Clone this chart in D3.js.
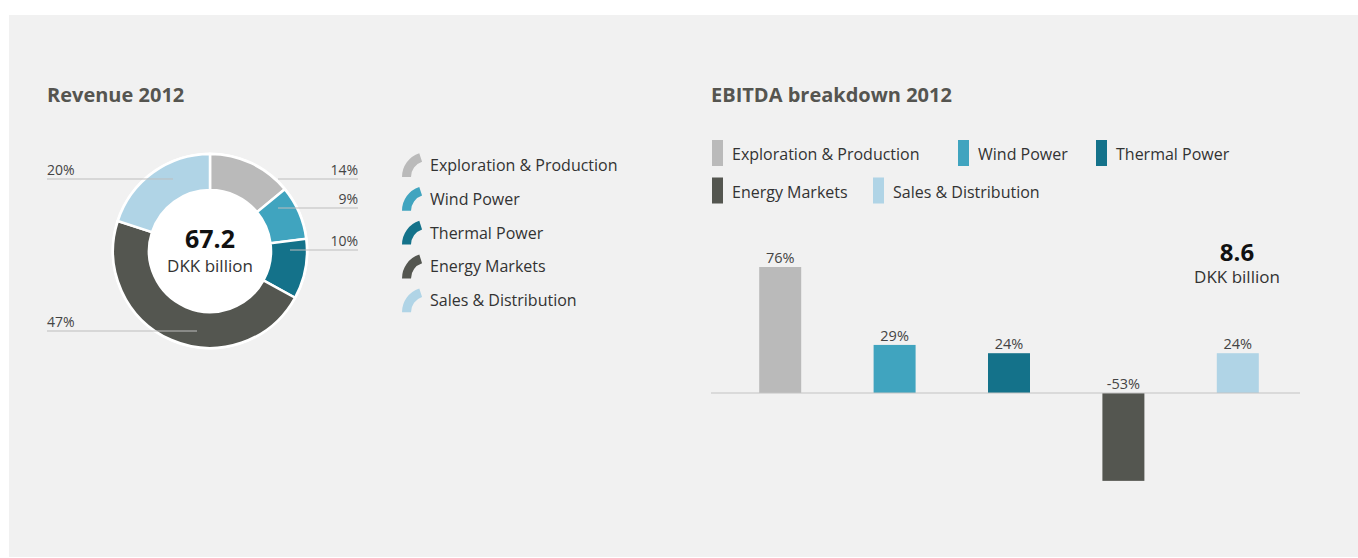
<!DOCTYPE html>
<html>
<head>
<meta charset="utf-8">
<script src="https://cdn.jsdelivr.net/npm/d3@7"></script>
<style>
  html, body { margin: 0; padding: 0; background: #ffffff; }
  svg { display: block; }
  text { font-family: "Open Sans", "Noto Sans", sans-serif; }
</style>
</head>
<body>
<svg id="chart" width="1358" height="558"></svg>
<script>
// ---- Data ----
const categories = ["Exploration & Production", "Wind Power", "Thermal Power", "Energy Markets", "Sales & Distribution"];
const colors = ["#bababa", "#40a4bf", "#14728a", "#545650", "#b0d4e6"];
const revenueShares = [14, 9, 10, 47, 20];
const revenueLabels = ["14%", "9%", "10%", "47%", "20%"];
const revenueTotal = "67.2";
const ebitdaShares = [76, 29, 24, -53, 24];
const ebitdaLabels = ["76%", "29%", "24%", "-53%", "24%"];
const ebitdaTotal = "8.6";
const unitLabel = "DKK billion";

const svg = d3.select("#chart");

// panel
svg.append("rect").attr("x", 9).attr("y", 15).attr("width", 1349).attr("height", 542).attr("fill", "#f1f1f1");

// ---- Revenue donut ----
svg.append("text").attr("x", 47).attr("y", 102).attr("font-size", 20).attr("font-weight", 700)
  .attr("fill", "#555550").text("Revenue 2012");

const cx = 210, cy = 251, rOut = 97, rIn = 61;
const pie = d3.pie().sort(null).value(d => d)(revenueShares);
const arc = d3.arc().innerRadius(rIn).outerRadius(rOut);
const g = svg.append("g").attr("transform", `translate(${cx},${cy})`);
g.append("circle").attr("r", rOut + 1.5).attr("fill", "#ffffff");
g.selectAll("path.seg").data(pie).join("path").attr("class", "seg")
  .attr("d", arc).attr("fill", (d, i) => colors[i])
  .attr("stroke", "#ffffff").attr("stroke-width", 2.5);
g.append("circle").attr("r", rIn - 1).attr("fill", "#ffffff");

g.append("text").attr("x", 0).attr("y", -3).attr("text-anchor", "middle").attr("font-size", 25)
  .attr("font-weight", 700).attr("fill", "#111").text(revenueTotal);
g.append("text").attr("x", 0).attr("y", 21).attr("text-anchor", "middle").attr("font-size", 17)
  .attr("fill", "#333").text(unitLabel);

// callout lines
const callouts = [
  {y: 179, x1: 278, x2: 358, side: "right"},
  {y: 208, x1: 278, x2: 358, side: "right"},
  {y: 250, x1: 290, x2: 358, side: "right"},
  {y: 331, x1: 47, x2: 197, side: "left"},
  {y: 179, x1: 47, x2: 173, side: "left"}
];
callouts.forEach((c, i) => {
  svg.append("line").attr("x1", c.x1).attr("x2", c.x2).attr("y1", c.y).attr("y2", c.y)
    .attr("stroke", "#bdbdbd").attr("stroke-width", 1);
  svg.append("text")
    .attr("x", c.side === "right" ? c.x2 : c.x1)
    .attr("y", c.y - 4)
    .attr("text-anchor", c.side === "right" ? "end" : "start")
    .attr("font-size", 14).attr("fill", "#444").text(revenueLabels[i]);
});

// legend with arc icons
const iconArc = d3.arc().innerRadius(16).outerRadius(25)
  .startAngle(-Math.PI / 2).endAngle(-Math.PI / 10);
categories.forEach((c, i) => {
  const yy = 177 + i * 33.8;
  svg.append("path").attr("d", iconArc()).attr("fill", colors[i])
    .attr("transform", `translate(${402 + 25},${yy})`);
  svg.append("text").attr("x", 430).attr("y", yy - 6).attr("font-size", 16)
    .attr("fill", "#333").text(c);
});

// ---- EBITDA bars ----
svg.append("text").attr("x", 711).attr("y", 102).attr("font-size", 20).attr("font-weight", 700)
  .attr("fill", "#555550").text("EBITDA breakdown 2012");

const legendPos = [[712, 0], [958, 0], [1096, 0], [712, 1], [873, 1]];
categories.forEach((c, i) => {
  const [lx, row] = legendPos[i];
  const ty = 140 + row * 37.5;
  svg.append("rect").attr("x", lx).attr("y", ty).attr("width", 11).attr("height", 26).attr("fill", colors[i]);
  svg.append("text").attr("x", lx + 20).attr("y", ty + 20).attr("font-size", 16)
    .attr("fill", "#333").text(c);
});

const x = d3.scaleBand().domain(categories).range([723, 1295]).paddingInner(0.633).paddingOuter(0.3165);
const y = d3.scaleLinear().domain([0, 76]).range([393, 267]);

svg.append("g").selectAll("rect").data(ebitdaShares).join("rect")
  .attr("x", (d, i) => x(categories[i]))
  .attr("width", x.bandwidth())
  .attr("y", d => Math.min(y(d), y(0)))
  .attr("height", d => Math.abs(y(d) - y(0)))
  .attr("fill", (d, i) => colors[i]);

svg.append("line").attr("x1", 711).attr("x2", 1300).attr("y1", y(0)).attr("y2", y(0))
  .attr("stroke", "#c4c4c4").attr("stroke-width", 1.2);

svg.append("g").selectAll("text").data(ebitdaShares).join("text")
  .attr("x", (d, i) => x(categories[i]) + x.bandwidth() / 2)
  .attr("y", d => (d >= 0 ? y(d) : y(0)) - 4)
  .attr("text-anchor", "middle").attr("font-size", 14.5).attr("fill", "#444")
  .text((d, i) => ebitdaLabels[i]);

svg.append("text").attr("x", 1237).attr("y", 261).attr("text-anchor", "middle").attr("font-size", 24)
  .attr("font-weight", 700).attr("fill", "#111").text(ebitdaTotal);
svg.append("text").attr("x", 1237).attr("y", 283).attr("text-anchor", "middle").attr("font-size", 17)
  .attr("fill", "#333").text(unitLabel);
</script>
</body>
</html>
